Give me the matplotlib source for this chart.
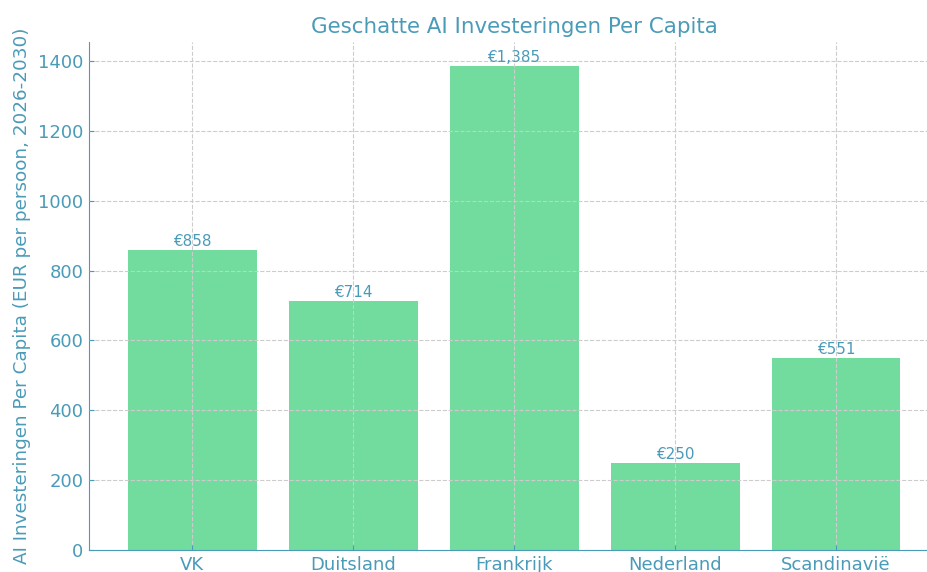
import numpy as np
import matplotlib.pyplot as plt

regions = ["VK", "Duitsland", "Frankrijk", "Nederland", "Scandinavië"]
per_capita = [858, 714, 1385, 250, 551]
value_labels = ["€858", "€714", "€1,385", "€250", "€551"]

teal = "#4a9bb8"
bar_green = "#2ecc71"

fig, ax = plt.subplots(figsize=(9.28, 5.72), dpi=100)
x = np.arange(len(regions))
bars = ax.bar(x, per_capita, width=0.8, color=bar_green, alpha=0.68)

for b, lab in zip(bars, value_labels):
	ax.text(b.get_x() + b.get_width() / 2, b.get_height() + 3, lab,
		ha="center", va="bottom", fontsize=11, color=teal)

ax.set_xticks(x)
ax.set_xticklabels(regions)
ax.set_title("Geschatte AI Investeringen Per Capita", fontsize=15.4, color=teal)
ax.set_ylabel("AI Investeringen Per Capita (EUR per persoon, 2026-2030)", fontsize=13.2, color=teal, labelpad=5)
ax.tick_params(colors=teal, labelsize=13, direction="in", pad=4)
ax.grid(True, linestyle="--", color="#cccccc", linewidth=0.8)
ax.set_axisbelow(False)
for side in ("top", "right"):
	ax.spines[side].set_visible(False)
for side in ("left", "bottom"):
	ax.spines[side].set_color(teal)

# right edge runs a little past the canvas, as in the reference
fig.subplots_adjust(left=0.096, right=1.012, top=0.927, bottom=0.038)
fig.savefig("out.png")
